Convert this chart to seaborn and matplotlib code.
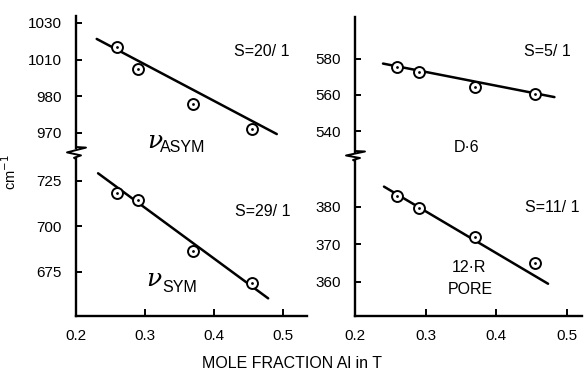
import matplotlib
matplotlib.use("Agg")
import matplotlib.pyplot as plt
from matplotlib.lines import Line2D
import pandas as pd
import seaborn as sns

# Al mole fraction in the T sites of the four samples
mole_fraction = [0.26, 0.29, 0.37, 0.455]

# band positions, cm-1
nu_asym = [1016.9, 1004.9, 985.8, 972.2]
nu_sym = [718.2, 714.6, 686.5, 669.1]
d6_ring = [575.2, 572.7, 564.5, 560.7]
pore_12r = [382.9, 379.8, 371.9, 365.1]

# trend line end points
asym_fit_x = [0.230, 0.491]
asym_fit_y = [1021.3, 969.4]
sym_fit_x = [0.232, 0.4785]
sym_fit_y = [729.2, 660.5]
d6_fit_x = [0.2396, 0.482]
d6_fit_y = [577.3, 558.8]
pore_fit_x = [0.241, 0.473]
pore_fit_y = [385.4, 359.5]

x_ticks = [0.2, 0.3, 0.4, 0.5]
x_tick_labels = ["0.2", "0.3", "0.4", "0.5"]
asym_ticks = [1030, 1010, 990, 970]
asym_tick_labels = ["1030", "1010", "980", "970"]
sym_ticks = [725, 700, 675]
d6_ticks = [580, 560, 540]
pore_ticks = [380, 370, 360]

sns.set_theme(style="white")
plt.rcParams["font.family"] = ["Liberation Sans", "DejaVu Sans"]
plt.rcParams["text.color"] = "black"
plt.rcParams["xtick.color"] = "black"
plt.rcParams["ytick.color"] = "black"
plt.rcParams["axes.labelcolor"] = "black"

W, H = 584, 376
fig = plt.figure(figsize=(W / 100, H / 100), dpi=100)


def box(l, r, t, b):
    return [l / W, 1 - b / H, (r - l) / W, (b - t) / H]


def fx(px):
    return px / W


def fy(py):
    return 1 - py / H


ax_tl = fig.add_axes(box(76, 307, 16, 148))
ax_bl = fig.add_axes(box(76, 307, 158, 316))
ax_tr = fig.add_axes(box(355, 582, 17, 152))
ax_br = fig.add_axes(box(355, 582, 160, 316))

panels = [
    (ax_tl, nu_asym, asym_fit_x, asym_fit_y, (961.8, 1033.8), (0.2, 0.5348)),
    (ax_bl, nu_sym, sym_fit_x, sym_fit_y, (650.8, 737.6), (0.2, 0.5348)),
    (ax_tr, d6_ring, d6_fit_x, d6_fit_y, (528.5, 603.0), (0.2, 0.521)),
    (ax_br, pore_12r, pore_fit_x, pore_fit_y, (350.9, 392.5), (0.2, 0.521)),
]

for ax, band, fit_x, fit_y, ylim, xlim in panels:
    pts = pd.DataFrame({"x": mole_fraction, "y": band})
    fit = pd.DataFrame({"x": fit_x, "y": fit_y})
    sns.lineplot(data=fit, x="x", y="y", color="black", lw=1.8, ax=ax, zorder=2)
    sns.scatterplot(data=pts, x="x", y="y", s=62, marker="o", facecolor="white",
                    edgecolor="black", linewidth=1.4, ax=ax, zorder=3)
    sns.scatterplot(data=pts, x="x", y="y", s=4, marker="o", color="black",
                    linewidth=0, ax=ax, zorder=4)
    ax.set_xlim(*xlim)
    ax.set_ylim(*ylim)
    ax.set_xlabel("")
    ax.set_ylabel("")
    ax.patch.set_alpha(0)
    for side in ("top", "right"):
        ax.spines[side].set_visible(False)
    ax.spines["left"].set_linewidth(1.7)
    ax.spines["left"].set_color("black")
    ax.tick_params(axis="y", direction="in", length=4, width=1.4, colors="black",
                   labelsize=11, pad=10, left=True)

for ax in (ax_tl, ax_tr):
    ax.spines["bottom"].set_visible(False)
    ax.set_xticks([])

for ax in (ax_bl, ax_br):
    ax.spines["bottom"].set_linewidth(1.7)
    ax.spines["bottom"].set_color("black")
    ax.set_xticks(x_ticks)
    ax.set_xticklabels(x_tick_labels)
    ax.tick_params(axis="x", direction="in", length=5, width=1.4, colors="black",
                   labelsize=11, pad=9, bottom=True)

ax_tl.set_yticks(asym_ticks)
ax_tl.set_yticklabels(asym_tick_labels)
ax_bl.set_yticks(sym_ticks)
ax_tr.set_yticks(d6_ticks)
ax_br.set_yticks(pore_ticks)


# axis break marks between the upper and lower panels
def zigzag(x, top, bottom):
    h = bottom - top
    xs = [x, x + 10, x - 9, x + 5, x - 2, x]
    ys = [top, top + 0.05 * h, top + 0.45 * h, top + 0.7 * h, top + 0.9 * h, bottom]
    fig.add_artist(Line2D([fx(v) for v in xs], [fy(v) for v in ys],
                          transform=fig.transFigure, color="black", lw=1.4))


zigzag(76, 147, 159)
zigzag(355, 151, 161)

# panel annotations
txt = dict(color="black", ha="center", va="center")
fig.text(fx(262), fy(52), "S=20/ 1", size=11.5, **txt)
fig.text(fx(263), fy(211), "S=29/ 1", size=11.5, **txt)
fig.text(fx(547), fy(52), "S=5/ 1", size=11.5, **txt)
fig.text(fx(552), fy(208), "S=11/ 1", size=11.5, **txt)
fig.text(fx(467), fy(148), "D·6", size=11.5, **txt)
fig.text(fx(469), fy(268), "12·R", size=11.5, **txt)
fig.text(fx(470), fy(289), "PORE", size=11.5, **txt)

nu = dict(color="black", ha="center", va="center", family="DejaVu Serif",
          style="italic", size=18)
fig.text(fx(155), fy(142), "ν", **nu)
fig.text(fx(183), fy(148), "ASYM", size=11.5, **txt)
fig.text(fx(154), fy(280), "ν", **nu)
fig.text(fx(180), fy(288), "SYM", size=11.5, **txt)

fig.text(fx(10), fy(172), "cm$^{-1}$", size=10.5, rotation=90, **txt)
fig.text(fx(292), fy(364), "MOLE FRACTION Al in T", size=11.5, **txt)

fig.savefig("out.png", dpi=100)
